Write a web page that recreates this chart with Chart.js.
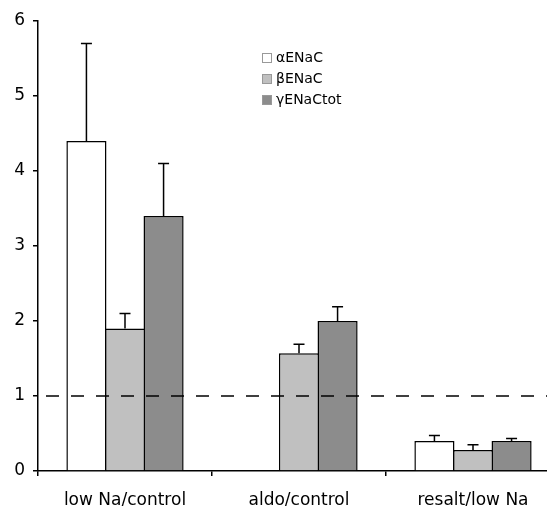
<!DOCTYPE html>
<html>
<head>
<meta charset="utf-8">
<script src="https://cdn.jsdelivr.net/npm/chart.js@4"></script>
<style>
html,body{margin:0;padding:0;background:#fff;overflow:hidden}
#wrap{width:560px;height:506px}
</style>
</head>
<body>
<div id="wrap"><canvas id="c" width="560" height="506"></canvas></div>
<script>
// groups on the x axis
const categories=["low Na/control","aldo/control","resalt/low Na"]
const seriesNames=["\u03b1ENaC","\u03b2ENaC","\u03b3ENaCtot"]

// mean values and error (upper only)
const alphaVals=[4.4,null,0.40]
const alphaErr=[1.3,null,0.075]
const betaVals=[1.9,1.57,0.28]
const betaErr=[0.2,0.12,0.07]
const gammaVals=[3.4,2.0,0.40]
const gammaErr=[0.7,0.19,0.035]

const yTicks=[0,1,2,3,4,5,6]
const refLine=1

const fills=["#ffffff","#c0c0c0","#8c8c8c"]
const errs=[alphaErr,betaErr,gammaErr]

const FONT="'DejaVu Sans', Verdana, sans-serif"

// error bars, dashed reference line and legend
const extras={
id:"extras",
afterDatasetsDraw(chart){
const ctx=chart.ctx
const y=chart.scales.y
const area=chart.chartArea

ctx.save()
ctx.strokeStyle="#000"
ctx.lineWidth=1.5
chart.data.datasets.forEach((ds,i)=>{
let meta=chart.getDatasetMeta(i)
meta.data.forEach((bar,j)=>{
let v=ds.data[j]
let e=errs[i][j]
if(v==null||e==null) return
let top=y.getPixelForValue(v)
let tip=y.getPixelForValue(v+e)
ctx.beginPath()
ctx.moveTo(bar.x,top)
ctx.lineTo(bar.x,tip)
ctx.moveTo(bar.x-5.5,tip)
ctx.lineTo(bar.x+5.5,tip)
ctx.stroke()
})
})

// dashed line at 1
let py=y.getPixelForValue(refLine)
ctx.setLineDash([13,12])
ctx.lineDashOffset=17
ctx.beginPath()
ctx.moveTo(area.left,py)
ctx.lineTo(area.right,py)
ctx.stroke()
ctx.setLineDash([])

// legend
ctx.font="14px "+FONT
ctx.textBaseline="middle"
ctx.textAlign="left"
chart.data.datasets.forEach((ds,i)=>{
let ly=58+i*21
ctx.fillStyle=ds.backgroundColor
ctx.fillRect(262,ly-5,10,10)
ctx.strokeStyle="#999"
ctx.lineWidth=1
ctx.strokeRect(262.5,ly-4.5,9,9)
ctx.fillStyle="#000"
ctx.fillText(ds.label,276,ly)
})
ctx.restore()
}
}

new Chart(document.getElementById("c"),{
type:"bar",
data:{
labels:categories,
datasets:[
{label:seriesNames[0],data:alphaVals,backgroundColor:fills[0]},
{label:seriesNames[1],data:betaVals,backgroundColor:fills[1]},
{label:seriesNames[2],data:gammaVals,backgroundColor:fills[2]}
]
},
options:{
responsive:false,
animation:false,
devicePixelRatio:1,
layout:{padding:{top:21,left:0,right:0,bottom:0}},
datasets:{bar:{
borderColor:"#000",
borderWidth:1.5,
inflateAmount:0,
categoryPercentage:0.665,
barPercentage:1.04
}},
plugins:{legend:{display:false},tooltip:{enabled:false}},
scales:{
x:{
offset:true,
afterFit(s){s.height=35},
grid:{offset:true,drawOnChartArea:false,drawTicks:true,tickLength:5,color:"#000",lineWidth:1.5},
border:{display:true,color:"#000",width:1.5},
ticks:{color:"#000",font:{family:FONT,size:17},padding:14,maxRotation:0}
},
y:{
min:yTicks[0],
max:yTicks[yTicks.length-1],
afterFit(s){s.width=38},
afterBuildTicks(s){s.ticks=yTicks.map(v=>({value:v}))},
grid:{drawOnChartArea:false,drawTicks:true,tickLength:5,color:"#000",lineWidth:1.5},
border:{display:true,color:"#000",width:1.5},
ticks:{color:"#000",font:{family:FONT,size:17},padding:8}
}
}
},
plugins:[extras]
})
</script>
</body>
</html>
